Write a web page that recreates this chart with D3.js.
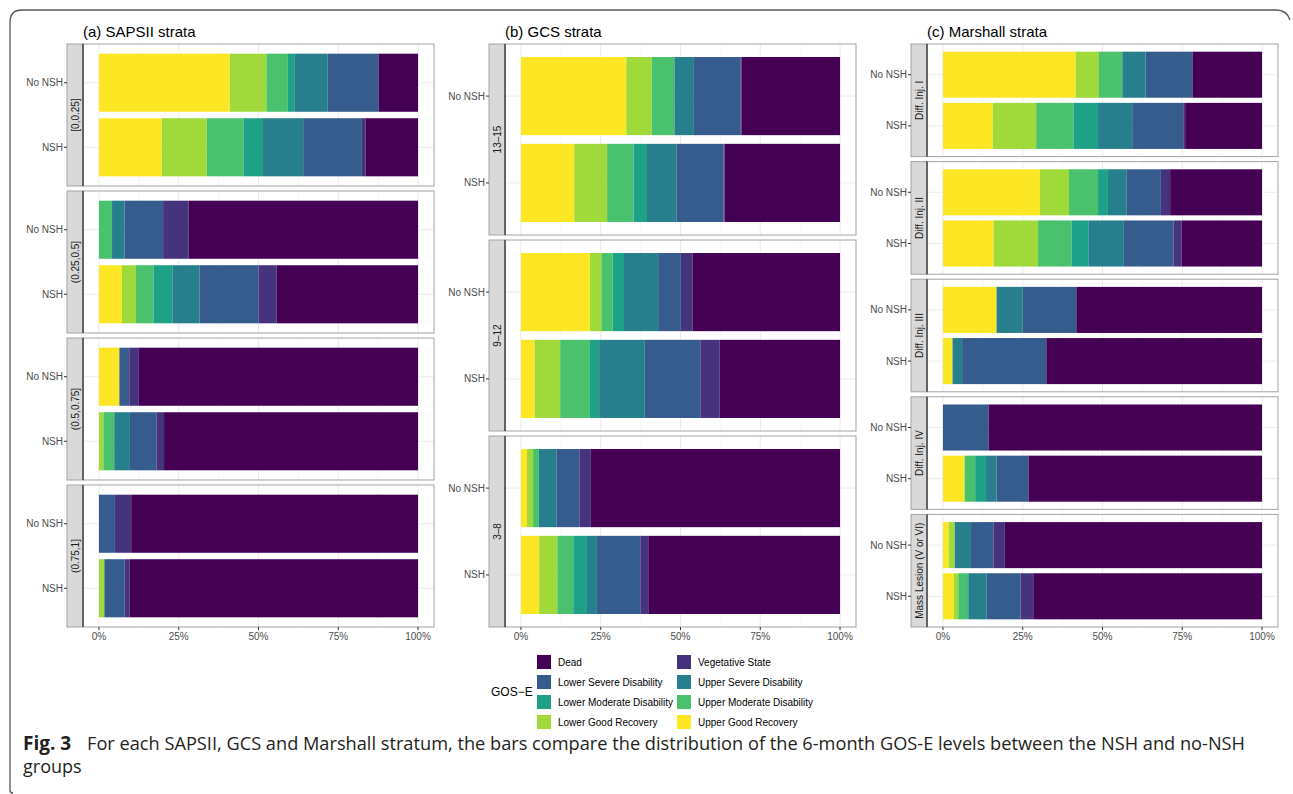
<!DOCTYPE html>
<html>
<head>
<meta charset="utf-8">
<script src="https://cdn.jsdelivr.net/npm/d3@7"></script>
<style>
  body { margin: 0; background: #fff; }
  text { font-family: "Liberation Sans", Arial, sans-serif; }
</style>
</head>
<body>
<div id="chart"></div>
<script>
// GOS-E levels in stacking order (left to right)
const gosLevels = ["Upper Good Recovery", "Lower Good Recovery", "Upper Moderate Disability",
  "Lower Moderate Disability", "Upper Severe Disability", "Lower Severe Disability",
  "Vegetative State", "Dead"];
const gosColors = ["#FDE725", "#9FDA3A", "#4AC16D", "#1FA187", "#277F8E", "#365C8D", "#46337E", "#440154"];
const groups = ["No NSH", "NSH"];
const xTicks = [0, 0.25, 0.5, 0.75, 1];

// (a) SAPSII strata, % per level
const sapsStrata = ["[0,0.25]", "(0.25,0.5]", "(0.5,0.75]", "(0.75,1]"];
const sapsNoNsh = [
  [41.0, 11.5, 6.7, 2.2, 10.3, 15.9, 0, 12.4],
  [0, 0, 4.1, 0, 3.9, 12.1, 8.0, 71.9],
  [6.4, 0, 0, 0, 0, 3.1, 3.0, 87.5],
  [0, 0, 0, 0, 0, 5.0, 5.1, 89.9]
];
const sapsNsh = [
  [19.7, 14.1, 11.6, 6.0, 12.6, 18.4, 1.2, 16.4],
  [7.2, 4.4, 5.5, 5.9, 8.5, 18.5, 5.7, 44.3],
  [0, 1.4, 3.4, 0, 4.9, 8.3, 2.4, 79.6],
  [0, 1.7, 0, 0, 0, 6.3, 1.6, 90.4]
];

// (b) GCS strata
const gcsStrata = ["13\u201315", "9\u201312", "3\u20138"];
const gcsNoNsh = [
  [33.0, 8.0, 7.1, 0, 6.1, 14.7, 0.2, 30.9],
  [21.6, 3.6, 3.5, 3.6, 10.7, 7.1, 3.7, 46.2],
  [1.9, 1.9, 1.8, 0, 5.5, 7.2, 3.6, 78.1]
];
const gcsNsh = [
  [16.7, 10.3, 8.3, 4.2, 9.2, 14.8, 0.3, 36.2],
  [4.3, 8.0, 9.3, 2.9, 14.3, 17.4, 6.1, 37.7],
  [5.7, 5.7, 5.0, 4.3, 3.1, 13.6, 2.5, 60.1]
];

// (c) Marshall strata
const marshallStrata = ["Diff. Inj. I", "Diff. Inj. II", "Diff. Inj. III", "Diff. Inj. IV", "Mass Lesion (V or VI)"];
const marshallNoNsh = [
  [41.6, 7.3, 7.3, 0, 7.3, 14.7, 0, 21.8],
  [30.4, 9.1, 9.1, 3.1, 5.9, 10.7, 2.9, 28.8],
  [16.8, 0, 0, 0, 8.2, 16.8, 0, 58.2],
  [0, 0, 0, 0, 0, 14.3, 0, 85.7],
  [1.8, 1.9, 0, 0, 5.1, 7.1, 3.5, 80.6]
];
const marshallNsh = [
  [15.6, 13.6, 11.7, 7.7, 10.7, 16.0, 0.6, 24.1],
  [15.9, 13.9, 10.5, 5.4, 11.0, 15.6, 2.5, 25.2],
  [3.0, 0, 0, 0, 3.0, 26.4, 0, 67.6],
  [6.8, 0, 3.3, 3.4, 3.3, 10.0, 0, 73.2],
  [3.4, 1.4, 2.8, 0.5, 5.6, 10.6, 4.0, 71.7]
];

const width = 1293, height = 794;
const svg = d3.select("#chart").append("svg")
  .attr("width", width)
  .attr("height", height);

var color = d3.scaleOrdinal().domain(gosLevels).range(gosColors);
var stack = d3.stack().keys(gosLevels).offset(d3.stackOffsetExpand);

// outer figure frame (right side fades out in the original)
svg.append("path")
  .attr("d", "M10,790 Q10,793 13,793 M10,790 L10,22 Q10,10 22,10 L1276,10 Q1287,10 1290,20")
  .attr("fill", "none")
  .attr("stroke", "#555")
  .attr("stroke-width", 1.3);

const plotTop = 44, plotBottom = 627, gap = 5, stripW = 16;

function drawColumn(title, stripX, panelR, strata, noNsh, nsh) {
  var panelL = stripX + stripW;
  var n = strata.length;
  var ph = (plotBottom - plotTop - gap * (n - 1)) / n;

  var x = d3.scaleLinear().domain([-0.05, 1.05]).range([panelL, panelR]);

  svg.append("text")
    .attr("x", panelL)
    .attr("y", 37)
    .attr("font-size", "15px")
    .attr("fill", "#000")
    .text(title);

  strata.forEach(function (s, i) {
    var py = plotTop + i * (ph + gap);
    var y = d3.scalePoint().domain(groups).range([py, py + ph]).padding(0.6);
    var barH = y.step() * 0.9;

    var rows = groups.map(function (g, gi) {
      var vals = gi == 0 ? noNsh[i] : nsh[i];
      var r = { group: g };
      gosLevels.forEach(function (k, ki) { r[k] = vals[ki]; });
      return r;
    });
    var series = stack(rows);

    var g = svg.append("g");

    g.append("rect")
      .attr("x", panelL).attr("y", py)
      .attr("width", panelR - panelL).attr("height", ph)
      .attr("fill", "#fff");

    // minor + major grid
    g.selectAll(".minor")
      .data([0.125, 0.375, 0.625, 0.875])
      .enter().append("line")
      .attr("x1", d => x(d)).attr("x2", d => x(d))
      .attr("y1", py).attr("y2", py + ph)
      .attr("stroke", "#F3F3F3").attr("stroke-width", 0.6);
    g.selectAll(".major")
      .data(xTicks)
      .enter().append("line")
      .attr("x1", d => x(d)).attr("x2", d => x(d))
      .attr("y1", py).attr("y2", py + ph)
      .attr("stroke", "#EBEBEB").attr("stroke-width", 1);
    g.selectAll(".hmajor")
      .data(groups)
      .enter().append("line")
      .attr("x1", panelL).attr("x2", panelR)
      .attr("y1", d => y(d)).attr("y2", d => y(d))
      .attr("stroke", "#EBEBEB").attr("stroke-width", 1);

    // stacked bars
    g.selectAll(".layer")
      .data(series)
      .enter().append("g")
      .attr("fill", d => color(d.key))
      .selectAll("rect")
      .data(d => d)
      .enter().append("rect")
      .attr("x", d => x(d[0]))
      .attr("width", d => Math.max(0, x(d[1]) - x(d[0])))
      .attr("y", d => y(d.data.group) - barH / 2)
      .attr("height", barH);

    // panel border
    g.append("rect")
      .attr("x", panelL).attr("y", py)
      .attr("width", panelR - panelL).attr("height", ph)
      .attr("fill", "none")
      .attr("stroke", "#A3A3A3").attr("stroke-width", 1);

    // strip on the left
    g.append("rect")
      .attr("x", stripX).attr("y", py)
      .attr("width", stripW).attr("height", ph)
      .attr("fill", "#D9D9D9")
      .attr("stroke", "#A3A3A3").attr("stroke-width", 1);
    g.append("line")
      .attr("x1", panelL).attr("x2", panelL)
      .attr("y1", py).attr("y2", py + ph)
      .attr("stroke", "#333").attr("stroke-width", 1.3);
    g.append("text")
      .attr("transform", "translate(" + (stripX + stripW / 2 + 3.5) + "," + (py + ph / 2) + ") rotate(-90)")
      .attr("text-anchor", "middle")
      .attr("font-size", "10px")
      .attr("fill", "#1A1A1A")
      .text(s);

    // y axis labels + ticks
    groups.forEach(function (gr) {
      g.append("line")
        .attr("x1", stripX - 3).attr("x2", stripX)
        .attr("y1", y(gr)).attr("y2", y(gr))
        .attr("stroke", "#333");
      g.append("text")
        .attr("x", stripX - 4)
        .attr("y", y(gr) + 3.5)
        .attr("text-anchor", "end")
        .attr("font-size", "10px")
        .attr("fill", "#4D4D4D")
        .text(gr);
    });
  });

  // x axis at the bottom
  var ax = svg.append("g");
  xTicks.forEach(function (t) {
    ax.append("line")
      .attr("x1", x(t)).attr("x2", x(t))
      .attr("y1", plotBottom).attr("y2", plotBottom + 3)
      .attr("stroke", "#333");
    ax.append("text")
      .attr("x", x(t))
      .attr("y", plotBottom + 13)
      .attr("text-anchor", "middle")
      .attr("font-size", "10px")
      .attr("fill", "#4D4D4D")
      .text(d3.format(".0%")(t));
  });
}

drawColumn("(a) SAPSII strata", 67, 434, sapsStrata, sapsNoNsh, sapsNsh);
drawColumn("(b) GCS strata", 489, 856, gcsStrata, gcsNoNsh, gcsNsh);
drawColumn("(c) Marshall strata", 911, 1278, marshallStrata, marshallNoNsh, marshallNsh);

// legend, filled by row in reverse level order
var legend = svg.append("g");
legend.append("text")
  .attr("x", 491)
  .attr("y", 696)
  .attr("font-size", "12px")
  .attr("fill", "#000")
  .text("GOS\u2212E");

gosLevels.slice().reverse().forEach(function (lev, i) {
  var row = Math.floor(i / 2), col = i % 2;
  var lx = 537 + col * 140, ly = 662 + row * 20;
  legend.append("rect")
    .attr("x", lx).attr("y", ly - 7)
    .attr("width", 14).attr("height", 14)
    .attr("fill", color(lev));
  legend.append("text")
    .attr("x", lx + 21)
    .attr("y", ly + 3.5)
    .attr("font-size", "10px")
    .attr("fill", "#000")
    .text(lev);
});

// caption
var cap = svg.append("text")
  .attr("y", 750)
  .attr("font-size", "18px")
  .attr("fill", "#231F20")
  .style("font-family", "'Open Sans', sans-serif");
cap.append("tspan")
  .attr("x", 23)
  .attr("font-weight", "bold")
  .attr("font-size", "19px")
  .text("Fig. 3");
cap.append("tspan")
  .attr("x", 87)
  .attr("textLength", 1158)
  .attr("lengthAdjust", "spacingAndGlyphs")
  .text("For each SAPSII, GCS and Marshall stratum, the bars compare the distribution of the 6-month GOS-E levels between the NSH and no-NSH");
svg.append("text")
  .attr("x", 23)
  .attr("y", 773)
  .attr("font-size", "18px")
  .attr("fill", "#231F20")
  .style("font-family", "'Open Sans', sans-serif")
  .text("groups");
</script>
</body>
</html>
